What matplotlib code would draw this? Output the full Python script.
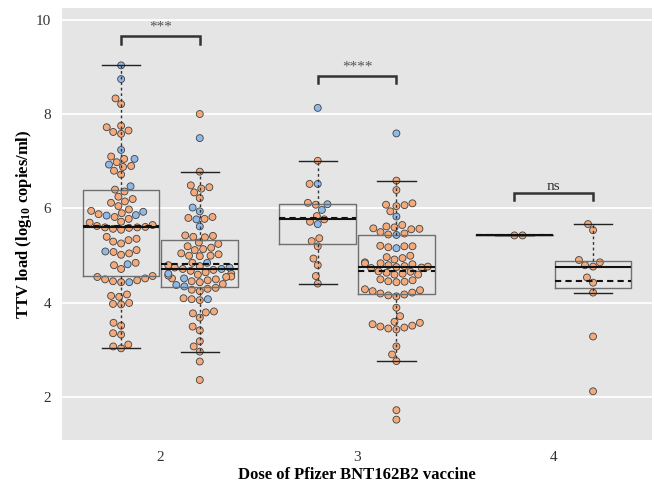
import matplotlib
matplotlib.use('Agg')
import matplotlib.pyplot as plt
import numpy as np
import pandas as pd
import seaborn as sns

plt.rcParams['font.family'] = ['Liberation Serif', 'DejaVu Serif']
plt.rcParams['mathtext.default'] = 'regular'

# ---------------- data ----------------
dose_labels = ['2', '3', '4']

g2_left_orange = [8.33, 8.21, 7.75, 7.72, 7.65, 7.62, 7.58, 7.10, 7.05, 6.98, 6.90, 6.88, 6.80, 6.72,
                  6.36, 6.40, 6.25, 6.20, 6.15, 6.12, 6.05, 5.98, 5.95, 5.90, 5.88, 5.82, 5.78, 5.72,
                  5.70, 5.65, 5.63, 5.61, 5.60, 5.60, 5.59, 5.57, 5.55, 5.40, 5.36, 5.33, 5.30, 5.26,
                  5.12, 5.08, 5.05, 5.02, 4.85, 4.80, 4.72, 4.57, 4.55, 4.52, 4.50, 4.48, 4.46, 4.44,
                  4.18, 4.15, 4.13, 4.00, 3.98, 3.97, 3.58, 3.52, 3.36, 3.33, 3.12, 3.08, 3.04]
g2_left_blue = [9.03, 8.74, 7.24, 7.05, 6.93, 6.47, 5.93, 5.86, 5.85, 5.09, 4.82, 4.44]

g2_right_orange = [8.00, 6.78, 6.49, 6.45, 6.42, 6.34, 6.22, 5.82, 5.80, 5.78, 5.43, 5.42, 5.40, 5.39,
                   5.28, 5.25, 5.20, 5.17, 5.14, 5.12, 5.05, 5.03, 5.00, 5.00, 4.99, 4.62, 4.56, 4.52,
                   4.85, 4.44, 4.80, 4.78, 4.75, 4.72, 4.70, 4.68, 4.65, 4.60, 4.58, 4.55, 4.50, 4.48,
                   4.46, 4.40, 4.32, 4.30, 4.28, 4.25, 4.10, 4.08, 4.06, 3.82, 3.80, 3.78, 3.69, 3.50,
                   3.42, 3.19, 3.08, 2.97, 2.76, 2.37]
g2_right_blue = [7.49, 6.02, 5.94, 5.77, 5.62, 4.85, 4.75, 4.72, 4.62, 4.52, 4.38, 4.35, 4.08]

g3_left_orange = [7.01, 6.52, 6.12, 6.08, 5.84, 5.77, 5.72, 5.37, 5.31, 5.20, 4.94, 4.80, 4.57, 4.41]
g3_left_blue = [8.13, 6.52, 6.09, 5.97, 5.67]

g3_right_orange = [6.59, 6.39, 6.11, 6.08, 6.07, 6.05, 5.94, 5.65, 5.62, 5.60, 5.58, 5.57, 5.56, 5.50,
                   5.47, 5.45, 5.21, 5.20, 5.20, 5.18, 5.00, 4.97, 4.95, 4.92, 4.86, 4.84, 4.84, 4.82,
                   4.80, 4.78, 4.77, 4.76, 4.75, 4.74, 4.67, 4.66, 4.64, 4.62, 4.60, 4.60, 4.50, 4.48,
                   4.46, 4.45, 4.44, 4.29, 4.27, 4.25, 4.22, 4.20, 4.18, 4.16, 4.14, 3.90, 3.72, 3.60,
                   3.58, 3.55, 3.52, 3.50, 3.48, 3.46, 3.44, 3.08, 2.91, 2.77, 1.73, 1.53]
g3_right_blue = [7.59, 5.83, 5.44, 5.16]

g4_left_orange = [5.43, 5.43]
g4_left_blue = []

g4_right_orange = [5.67, 5.54, 4.91, 4.86, 4.80, 4.77, 4.54, 4.43, 4.22, 3.29, 2.13]
g4_right_blue = []

sig_labels = ['***', '****', 'ns']
sig_heights = [9.65, 8.81, 6.33]

# ---------------- assemble ----------------
groups = [
    (0, -1, g2_left_orange, g2_left_blue),
    (0, 1, g2_right_orange, g2_right_blue),
    (1, -1, g3_left_orange, g3_left_blue),
    (1, 1, g3_right_orange, g3_right_blue),
    (2, -1, g4_left_orange, g4_left_blue),
    (2, 1, g4_right_orange, g4_right_blue),
]
dodge = 0.2
rows = []
box_data, box_pos = [], []
for di, side, orng, blu in groups:
    p = di + side * dodge
    for v in orng:
        rows.append((p, v, 'orange'))
    for v in blu:
        rows.append((p, v, 'blue'))
    box_data.append(np.array(orng + blu))
    box_pos.append(p)
df = pd.DataFrame(rows, columns=['pos', 'value', 'grp'])

# ---------------- plot ----------------
fig = plt.figure(figsize=(6.54, 4.84), dpi=100)
ax = fig.add_axes([0.095, 0.091, 0.902, 0.893])
ax.set_facecolor('#E5E5E5')

sns.swarmplot(data=df, x='pos', y='value', hue='grp', native_scale=True,
              palette={'orange': '#F5AA7B', 'blue': '#8FB9E8'}, size=5.0,
              edgecolor='#404040', linewidth=0.6, legend=False, ax=ax, zorder=2)

ax.boxplot(box_data, positions=box_pos, widths=0.39, showfliers=False,
           showmeans=True, meanline=True, whis=1.5, manage_ticks=False,
           boxprops=dict(color='#707070', lw=1.0),
           whiskerprops=dict(color='#333333', lw=1.0, linestyle=(0, (2, 2))),
           capprops=dict(color='#222222', lw=1.0),
           medianprops=dict(color='#111111', lw=1.5),
           meanprops=dict(color='#111111', lw=1.5, linestyle=(0, (3, 2))),
           zorder=3)

# significance brackets
for di, (lab, h) in enumerate(zip(sig_labels, sig_heights)):
    x1, x2 = di - dodge, di + dodge
    drop = 0.16
    ax.plot([x1, x1, x2, x2], [h - drop, h, h, h - drop], color='#333333', lw=1.8,
            solid_joinstyle='miter', zorder=4)
    col = '#333333' if lab == 'ns' else '#555555'
    off = 0.06 if lab == 'ns' else 0.12
    ax.text(di, h + off, lab, ha='center', va='baseline', fontsize=11, color=col)

ax.set_xlim(-0.5, 2.5)
ax.set_ylim(1.1, 10.25)
ax.set_xticks([0, 1, 2])
ax.set_xticklabels(dose_labels)
ax.set_yticks([2, 4, 6, 8, 10])
ax.yaxis.grid(True, color='white', lw=1.3)
ax.xaxis.grid(False)
ax.set_axisbelow(True)
for s in ax.spines.values():
    s.set_visible(False)
ax.tick_params(length=0, labelsize=11, colors='#333333', pad=8)

ax.set_xlabel('Dose of Pfizer BNT162B2 vaccine', fontsize=12, fontweight='bold', labelpad=2)
ax.set_ylabel('TTV load (log$_{10}$ copies/ml)', fontsize=12, fontweight='bold', labelpad=1)

fig.savefig('out.png', dpi=100)
